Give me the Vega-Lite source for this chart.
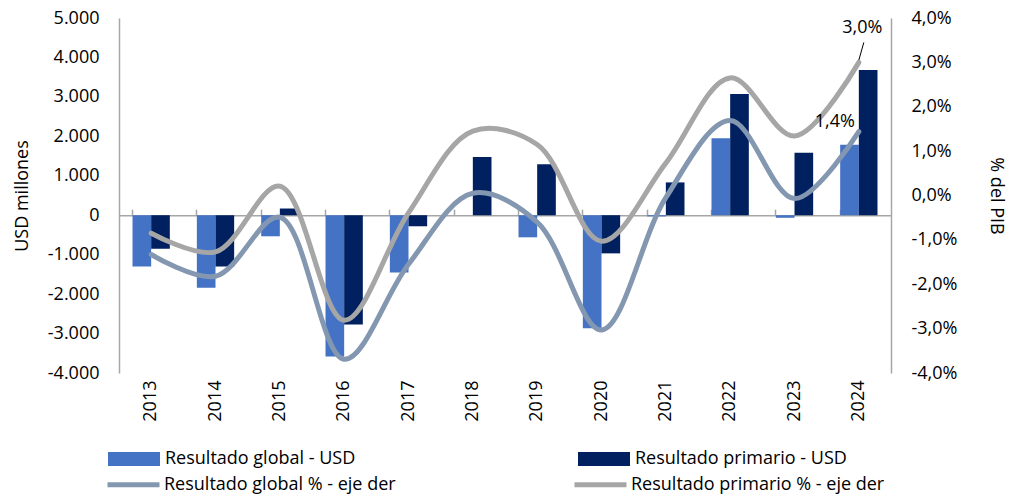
{
  "$schema": "https://vega.github.io/schema/vega-lite/v6.json",
  "autosize": {"type": "none"},
  "width": 772,
  "height": 355,
  "padding": {"left": 119, "top": 18, "right": 124, "bottom": 122},
  "config": {
    "font": "Open Sans",
    "view": {"stroke": null},
    "axis": {
      "labelFont": "Open Sans",
      "labelFontSize": 18,
      "labelColor": "#000000",
      "titleFont": "Open Sans",
      "titleFontSize": 18,
      "titleFontWeight": "normal",
      "titleColor": "#000000",
      "grid": false,
      "domainColor": "#A6A6A6",
      "domainWidth": 1.5,
      "tickColor": "#A6A6A6",
      "tickWidth": 1.5
    },
    "legend": {
      "labelFont": "Open Sans",
      "labelFontSize": 18,
      "labelColor": "#000000",
      "labelLimit": 400
    }
  },
  "datasets": {
    "main": [
      {"year": "2013", "global_usd": -1300, "primary_usd": -850, "global_pct": -1.33, "primary_pct": -0.85},
      {"year": "2014", "global_usd": -1840, "primary_usd": -1300, "global_pct": -1.82, "primary_pct": -1.27},
      {"year": "2015", "global_usd": -534, "primary_usd": 170, "global_pct": -0.49, "primary_pct": 0.21},
      {"year": "2016", "global_usd": -3580, "primary_usd": -2770, "global_pct": -3.69, "primary_pct": -2.81},
      {"year": "2017", "global_usd": -1450, "primary_usd": -280, "global_pct": -1.55, "primary_pct": -0.39},
      {"year": "2018", "global_usd": 0, "primary_usd": 1475, "global_pct": 0.05, "primary_pct": 1.45},
      {"year": "2019", "global_usd": -560, "primary_usd": 1290, "global_pct": -0.6, "primary_pct": 1.15},
      {"year": "2020", "global_usd": -2867, "primary_usd": -967, "global_pct": -3.03, "primary_pct": -1.03},
      {"year": "2021", "global_usd": -30, "primary_usd": 832, "global_pct": -0.05, "primary_pct": 0.73},
      {"year": "2022", "global_usd": 1951, "primary_usd": 3071, "global_pct": 1.69, "primary_pct": 2.65},
      {"year": "2023", "global_usd": -65, "primary_usd": 1585, "global_pct": -0.07, "primary_pct": 1.34},
      {"year": "2024", "global_usd": 1789, "primary_usd": 3682, "global_pct": 1.44, "primary_pct": 3.0}
    ],
    "labels": [
      {"year": "2024", "pct": 3.0, "label": "3,0%", "lead_from": 3.05, "lead_to": 3.45},
      {"year": "2024", "pct": 1.44, "label": "1,4%"}
    ]
  },
  "resolve": {"scale": {"y": "independent"}, "axis": {"x": "independent"}},
  "layer": [
    {
      "data": {"name": "main"},
      "transform": [{"fold": ["global_usd", "primary_usd"], "as": ["serie", "value"]}],
      "mark": {"type": "bar"},
      "encoding": {
        "x": {
          "field": "year", "type": "nominal",
          "scale": {"paddingInner": 0.42, "paddingOuter": 0.21},
          "axis": {"orient": "bottom", "title": null, "labelAngle": -90, "domain": false, "ticks": false, "labelPadding": 7}
        },
        "xOffset": {"field": "serie", "type": "nominal", "scale": {"domain": ["global_usd", "primary_usd"], "paddingInner": 0, "paddingOuter": 0}},
        "y": {
          "field": "value", "type": "quantitative",
          "scale": {"domain": [-4000, 5000], "nice": false, "zero": false},
          "axis": {
            "title": "USD millones", "orient": "left",
            "values": [-4000, -3000, -2000, -1000, 0, 1000, 2000, 3000, 4000, 5000],
            "labelExpr": "(datum.value < 0 ? '-' : '') + replace(format(abs(datum.value), ',.0f'), ',', '.')",
            "ticks": false, "labelPadding": 20, "titlePadding": 16
          }
        },
        "color": {
          "field": "serie", "type": "nominal",
          "scale": {"domain": ["global_usd", "primary_usd"], "range": ["#4472C4", "#002060"]},
          "legend": {
            "title": null, "orient": "none", "legendX": -11, "legendY": 415,
            "direction": "horizontal", "columnPadding": 222, "labelOffset": 5,
            "symbolType": "M-1,-0.27L1,-0.27L1,0.27L-1,0.27Z", "symbolSize": 2704, "symbolStrokeWidth": 0,
            "labelExpr": "datum.label == 'global_usd' ? 'Resultado global - USD' : 'Resultado primario - USD'"
          }
        }
      }
    },
    {
      "layer": [
        {
          "data": {"name": "main"},
          "mark": {"type": "line", "interpolate": "catmull-rom", "strokeWidth": 5, "strokeCap": "round"},
          "encoding": {
            "x": {
              "field": "year", "type": "nominal",
              "axis": {"orient": "top", "offset": -197.2, "labels": false, "title": null, "bandPosition": 0, "ticks": true, "tickSize": 6, "domain": true}
            },
            "y": {
              "field": "global_pct", "type": "quantitative", "title": "% del PIB",
              "scale": {"domain": [-4, 4], "nice": false, "zero": false},
              "axis": {
                "orient": "right", "title": "% del PIB",
                "values": [-4, -3, -2, -1, 0, 1, 2, 3, 4],
                "labelExpr": "(datum.value < 0 ? '-' : '') + replace(format(abs(datum.value), '.1f'), '.', ',') + '%'",
                "ticks": false, "labelPadding": 20, "titlePadding": 30
              }
            },
            "stroke": {
              "datum": "Resultado global % - eje der", "type": "nominal",
              "scale": {"domain": ["Resultado global % - eje der", "Resultado primario % - eje der"], "range": ["#8497B0", "#A6A6A6"]},
              "legend": {
                "title": null, "orient": "none", "legendX": -14, "legendY": 438,
                "direction": "horizontal", "columnPadding": 168, "labelOffset": 2,
                "symbolType": "stroke", "symbolSize": 2704, "symbolStrokeWidth": 5
              }
            }
          }
        },
        {
          "data": {"name": "main"},
          "mark": {"type": "line", "interpolate": "catmull-rom", "strokeWidth": 5, "strokeCap": "round"},
          "encoding": {
            "x": {"field": "year", "type": "nominal"},
            "y": {"field": "primary_pct", "type": "quantitative", "title": "% del PIB"},
            "stroke": {"datum": "Resultado primario % - eje der", "type": "nominal"}
          }
        },
        {
          "data": {"name": "labels"},
          "transform": [{"filter": "datum.lead_from != null"}],
          "mark": {"type": "rule", "color": "#000000", "strokeWidth": 1, "x2Offset": 5},
          "encoding": {
            "x": {"field": "year", "type": "nominal"},
            "x2": {"field": "year"},
            "y": {"field": "lead_from", "type": "quantitative", "title": "% del PIB"},
            "y2": {"field": "lead_to"}
          }
        },
        {
          "data": {"name": "labels"},
          "transform": [{"filter": "datum.label == '3,0%'"}],
          "mark": {"type": "text", "fontSize": 18, "font": "Open Sans", "color": "#000000", "dx": 3.5, "dy": -34, "baseline": "middle", "align": "center"},
          "encoding": {
            "x": {"field": "year", "type": "nominal"},
            "y": {"field": "pct", "type": "quantitative", "title": "% del PIB"},
            "text": {"field": "label"}
          }
        },
        {
          "data": {"name": "labels"},
          "transform": [{"filter": "datum.label == '1,4%'"}],
          "mark": {"type": "text", "fontSize": 18, "font": "Open Sans", "color": "#000000", "dx": -24, "dy": -10, "baseline": "middle", "align": "center"},
          "encoding": {
            "x": {"field": "year", "type": "nominal"},
            "y": {"field": "pct", "type": "quantitative", "title": "% del PIB"},
            "text": {"field": "label"}
          }
        }
      ]
    }
  ]
}
